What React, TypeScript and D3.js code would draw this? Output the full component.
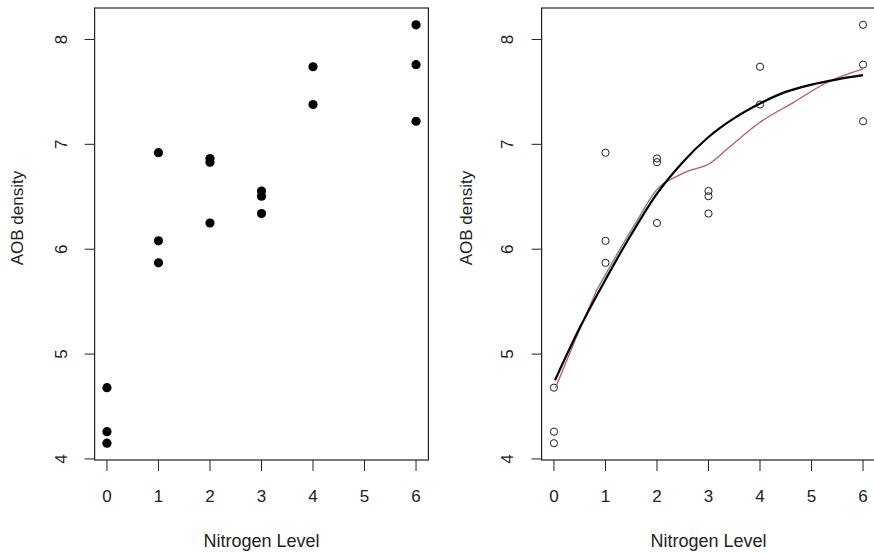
import React from 'react';
import * as d3 from 'd3';

const nitrogenLevel = [0, 0, 0, 1, 1, 1, 2, 2, 2, 3, 3, 3, 4, 4, 6, 6, 6];
const aobDensity = [4.68, 4.26, 4.15, 6.92, 6.08, 5.87, 6.865, 6.83, 6.25, 6.555, 6.505, 6.34, 7.74, 7.38, 8.14, 7.76, 7.22];
const xTicks = [0, 1, 2, 3, 4, 5, 6];
const yTicks = [4, 5, 6, 7, 8];

// fitted curve (black)
const fitX = [0.02, 0.5, 1, 1.5, 2, 2.5, 3, 3.5, 4, 4.5, 5, 5.5, 6];
const fitY = [4.75, 5.25, 5.71, 6.14, 6.53, 6.83, 7.07, 7.25, 7.39, 7.5, 7.57, 7.62, 7.66];

// smoother (red, with grey middle section)
const smoothX = [0.03, 0.4, 0.83, 1.2, 1.6, 2.0, 2.16, 2.58, 3.03, 3.35, 4.0, 4.65, 5.3, 6.0];
const smoothY = [4.68, 5.12, 5.61, 5.93, 6.26, 6.57, 6.64, 6.74, 6.82, 6.95, 7.21, 7.4, 7.59, 7.72];
const greyFrom = 0.83;
const greyTo = 2.16;

const W = 874;
const H = 554;
const FONT = '"Liberation Sans", Arial, Helvetica, sans-serif';

const yScale = d3.scaleLinear().domain([3.99, 8.30]).range([460, 8]);

function Panel({ left, right, filled, yLabelX, yTitleX, withLines }: any) {
  const x = d3.scaleLinear().domain([-0.24, 6.24]).range([left, right]);
  const y = yScale;
  const pts = nitrogenLevel.map((n, i) => ({ x: n, y: aobDensity[i] }));
  const line = d3
    .line<{ x: number; y: number }>()
    .x((d) => x(d.x))
    .y((d) => y(d.y))
    .curve(d3.curveMonotoneX);
  const fit = fitX.map((v, i) => ({ x: v, y: fitY[i] }));
  const smooth = smoothX.map((v, i) => ({ x: v, y: smoothY[i] }));
  const redA = smooth.filter((d) => d.x <= greyFrom);
  const grey = smooth.filter((d) => d.x >= greyFrom && d.x <= greyTo);
  const redB = smooth.filter((d) => d.x >= greyTo);
  const x0 = x.range()[0];
  const y0 = y.range()[0];
  return (
    <g>
      <rect x={x0} y={8} width={right - left} height={460 - 8} fill="none" stroke="#222" strokeWidth={1.2} />
      {yTicks.map((t) => (
        <g key={'y' + t}>
          <line x1={x0 - 10} x2={x0} y1={y(t)} y2={y(t)} stroke="#222" strokeWidth={1} />
          <text
            transform={`translate(${yLabelX},${y(t)}) rotate(-90)`}
            textAnchor="middle"
            fontSize={17}
            fontFamily={FONT}
            fill="#222"
          >
            {t}
          </text>
        </g>
      ))}
      {xTicks.map((t) => (
        <g key={'x' + t}>
          <line x1={x(t)} x2={x(t)} y1={y0} y2={y0 + 11} stroke="#222" strokeWidth={1} />
          <text x={x(t)} y={502} textAnchor="middle" fontSize={17} fontFamily={FONT} fill="#222">
            {t}
          </text>
        </g>
      ))}
      <text x={(x(0) + x(6)) / 2} y={547} textAnchor="middle" fontSize={18} fontFamily={FONT} fill="#222">
        Nitrogen Level
      </text>
      <text
        transform={`translate(${yTitleX},${(8 + 460) / 2 - 16}) rotate(-90)`}
        textAnchor="middle"
        fontSize={17}
        fontFamily={FONT}
        fill="#222"
      >
        AOB density
      </text>
      {pts.map((p, i) =>
        filled ? (
          <circle key={i} cx={x(p.x)} cy={y(p.y)} r={4.6} fill="#000" />
        ) : (
          <circle key={i} cx={x(p.x)} cy={y(p.y)} r={3.6} fill="none" stroke="#222" strokeWidth={1} />
        )
      )}
      {withLines && (
        <g fill="none">
          <path d={line(redA) || ''} stroke="#c25560" strokeWidth={1.3} />
          <path d={line(grey) || ''} stroke="#8a8a8a" strokeWidth={1.6} />
          <path d={line(redB) || ''} stroke="#c25560" strokeWidth={1.3} />
          <path d={line(fit) || ''} stroke="#000" strokeWidth={2.2} />
        </g>
      )}
    </g>
  );
}

export default function App() {
  return (
    <svg
      width={W}
      height={H}
      style={{ position: 'absolute', left: 0, top: 0, background: '#fff' }}
    >
      <rect x={0} y={0} width={W} height={H} fill="#fff" />
      <Panel left={94.6} right={428.4} filled={true} yLabelX={67} yTitleX={23} withLines={false} />
      <Panel left={541.6} right={875.4} filled={false} yLabelX={513} yTitleX={472} withLines={true} />
    </svg>
  );
}
